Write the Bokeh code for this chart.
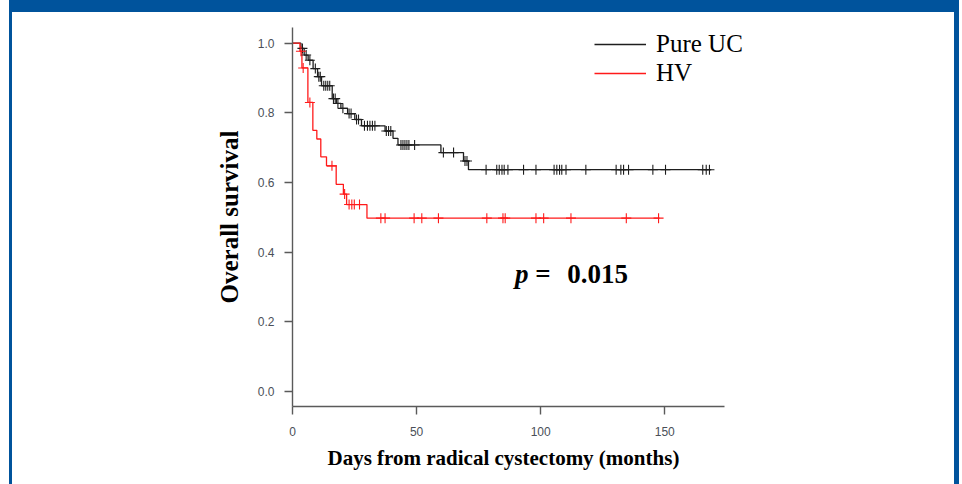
import numpy as np
from bokeh.plotting import figure
from bokeh.layouts import column, row
from bokeh.models import (Range1d, FixedTicker, PrintfTickFormatter, Label,
                          Legend, LegendItem, Div, Spacer, Title)
from bokeh.embed import file_html
from bokeh.resources import INLINE

# ---------------- data ----------------
uc_event_months = [3.4, 4.7, 6.3, 8.3, 10.1, 11.7, 16.0, 17.7, 19.5, 22.2,
                   25.1, 27.8, 37.3, 40.5, 42.5, 59.8, 68.9, 70.9]
uc_survival = [0.985, 0.966, 0.951, 0.927, 0.904, 0.878, 0.841, 0.827, 0.813,
               0.798, 0.781, 0.763, 0.748, 0.727, 0.708, 0.686, 0.662, 0.637]
uc_last_followup = 168.7
uc_censor_months = [4.0, 5.5, 7.0, 9.2, 10.6, 11.2, 12.6, 13.4, 14.2, 15.0,
                    16.5, 17.2, 18.3, 20.3, 22.8, 23.6, 25.8, 26.6, 29.0, 30.2,
                    31.2, 32.2, 33.2, 37.8, 38.7, 39.6, 43.7, 44.5, 45.3, 46.1,
                    46.9, 49.2, 60.8, 64.9, 69.5, 70.3, 78.0, 82.3, 83.3, 84.4,
                    85.3, 86.8, 93.1, 98.1, 105.4, 106.5, 107.6, 108.5, 110.2,
                    118.2, 130.4, 132.3, 133.4, 135.4, 145.2, 150.3, 165.3,
                    166.7, 168.0]

hv_event_months = [3.0, 3.8, 6.2, 8.2, 9.8, 11.4, 13.7, 17.6, 20.5, 21.8, 30.0]
hv_survival = [0.977, 0.929, 0.830, 0.750, 0.725, 0.674, 0.648, 0.595, 0.567,
               0.537, 0.498]
hv_last_followup = 147.9
hv_censor_months = [3.4, 4.3, 7.0, 15.9, 21.0, 22.8, 23.9, 24.9, 27.0, 35.6,
                    37.3, 49.0, 52.1, 58.8, 78.3, 84.8, 85.7, 98.1, 101.2,
                    112.2, 134.5, 147.5]

series_names = ["Pure UC", "HV"]
x_ticks = [0, 50, 100, 150]
y_ticks = [0.0, 0.2, 0.4, 0.6, 0.8, 1.0]
x_title = "Days from radical cystectomy (months)"
y_title = "Overall survival"
p_value_text = "0.015"


def step_xy(events, surv, last):
    xs = [0.0] + list(events) + [last]
    ys = [1.0] + list(surv) + [surv[-1]]
    return xs, ys


def surv_at(times, events, surv):
    idx = np.searchsorted(np.asarray(events), np.asarray(times), side="right")
    levels = np.concatenate([[1.0], np.asarray(surv)])
    return levels[idx]


# frame: canvas x 292..770 (axis line drawn only to 174 months), y 27..406
p = figure(width=942, height=472, output_backend="svg", toolbar_location=None,
           x_range=Range1d(0, 192.6), y_range=Range1d(-0.0425, 1.045),
           min_border_left=280, min_border_right=184, min_border_top=15,
           min_border_bottom=78, margin=0)
p.background_fill_color = "white"
p.border_fill_color = "white"
p.outline_line_color = None
p.xgrid.visible = False
p.ygrid.visible = False

BLACK = "#1e1e1e"
RED = "#ff1a1a"

ux, uy = step_xy(uc_event_months, uc_survival, uc_last_followup)
hx, hy = step_xy(hv_event_months, hv_survival, hv_last_followup)
r_uc = p.step(ux, uy, mode="after", line_color=BLACK, line_width=1.3)
r_hv = p.step(hx, hy, mode="after", line_color=RED, line_width=1.3)

p.scatter(uc_censor_months, surv_at(uc_censor_months, uc_event_months, uc_survival),
          marker="cross", size=10, line_color=BLACK, line_width=1.1)
p.scatter(hv_censor_months, surv_at(hv_censor_months, hv_event_months, hv_survival),
          marker="cross", size=10, line_color=RED, line_width=1.1)

# axes
AX = "#5a5a5a"
for ax in (p.xaxis[0], p.yaxis[0]):
    ax.axis_line_color = AX
    ax.axis_line_width = 1.4
    ax.major_tick_line_color = AX
    ax.major_tick_line_width = 1.4
    ax.major_tick_in = 0
    ax.major_tick_out = 8
    ax.minor_tick_line_color = None
    ax.major_label_text_font = "Liberation Sans"
    ax.major_label_text_font_size = "12px"
    ax.major_label_text_color = "#4a4f58"
    ax.axis_label_text_font = "Liberation Serif"
    ax.axis_label_text_font_style = "bold"
    ax.axis_label_text_color = "black"

p.xaxis.bounds = (0, 174)
p.xaxis.ticker = FixedTicker(ticks=x_ticks)
p.yaxis.ticker = FixedTicker(ticks=y_ticks)
p.xaxis.formatter = PrintfTickFormatter(format="%d")
p.yaxis.formatter = PrintfTickFormatter(format="%.1f")
p.yaxis.major_label_standoff = 10
p.xaxis.major_label_standoff = 12
p.yaxis.axis_label = y_title
p.yaxis.axis_label_text_font_size = "25px"
p.yaxis.axis_label_standoff = 12

# x-axis title, centred under the drawn axis line (not the wider frame)
p.add_layout(Title(text=x_title, align="left", offset=35, standoff=11,
                   text_font="Liberation Serif", text_font_style="bold",
                   text_font_size="21px", text_color="black"), "below")

# legend
legend = Legend(items=[LegendItem(label=series_names[0], renderers=[r_uc]),
                       LegendItem(label=series_names[1], renderers=[r_hv])],
                location=(302, 319), orientation="vertical")
legend.border_line_color = None
legend.background_fill_alpha = 0
legend.padding = 0
legend.margin = 0
legend.spacing = 1
legend.glyph_width = 52
legend.glyph_height = 28
legend.label_height = 28
legend.label_standoff = 10
legend.label_text_font = "Liberation Serif"
legend.label_text_font_size = "25px"
legend.label_text_color = "black"
p.add_layout(legend)

# p-value annotation
PV_Y = 0.337
for x, txt, style in [(89.7, "p", "bold italic"), (97.8, "=", "bold"),
                      (110.7, p_value_text, "bold")]:
    p.add_layout(Label(x=x, y=PV_Y, text=txt, text_font="Liberation Serif",
                       text_font_style=style, text_font_size="27px",
                       text_color="black", text_baseline="middle"))

# blue page frame around the figure
BLUE = "#00539c"


def blue(w, h):
    return Div(text="", width=w, height=h, margin=0,
               styles={"background-color": BLUE})


top_bar = row(Spacer(width=9, height=12, margin=0), blue(950, 12),
              Spacer(width=3, height=12, margin=0), spacing=0, margin=0)
middle = row(Spacer(width=9, height=472, margin=0), blue(3, 472), p,
             blue(5, 472), Spacer(width=3, height=472, margin=0),
             spacing=0, margin=0)
page = column(top_bar, middle, spacing=0, margin=0)

open("out.html", "w").write(file_html(page, INLINE))
